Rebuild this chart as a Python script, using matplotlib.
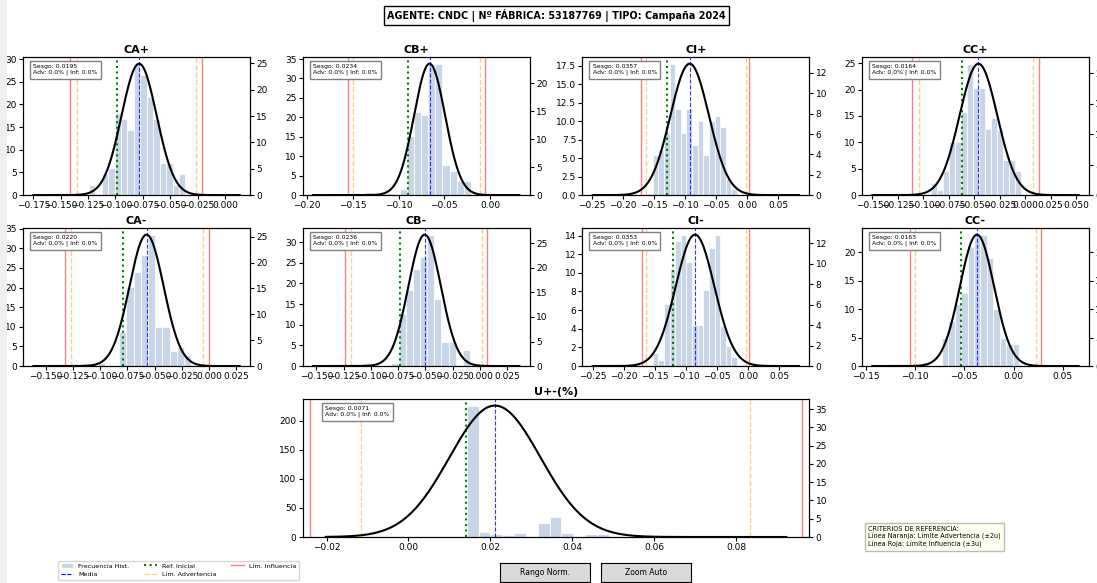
import numpy as np
import matplotlib
matplotlib.use('Agg')
import matplotlib.pyplot as plt
from matplotlib.patches import Patch, Rectangle
from matplotlib.lines import Line2D
from matplotlib.ticker import MultipleLocator

# Datos
titulos = ['CA+', 'CB+', 'CI+', 'CC+', 'CA-', 'CB-', 'CI-', 'CC-', 'U+-(%)']
sesgos = [0.0195, 0.0234, 0.0357, 0.0164, 0.0220, 0.0236, 0.0353, 0.0163, 0.0071]
medias = [-0.0784, -0.0661, -0.0926, -0.0458, -0.0575, -0.0507, -0.0853, -0.0371, 0.0211]
sigmas = [0.0160, 0.0170, 0.0309, 0.0185, 0.0157, 0.0149, 0.0311, 0.0173, 0.0111]
ref_inicial = [-0.0989, -0.0896, -0.1298, -0.0619, -0.0793, -0.0734, -0.1205, -0.0538, 0.0140]
adv_inf = [-0.1355, -0.1504, -0.1633, -0.1042, -0.1269, -0.1182, -0.1647, -0.0997, -0.0116]
adv_sup = [-0.0263, -0.0108, -0.0021, 0.0081, -0.0053, 0.0016, -0.0032, 0.0232, 0.0833]
lim_inf = [-0.1412, -0.1558, -0.1707, -0.1106, -0.1324, -0.1240, -0.1711, -0.1051, -0.0241]
lim_sup = [-0.0206, -0.0050, 0.0032, 0.0135, 0.0000, 0.0068, 0.0011, 0.0279, 0.0960]
curva_ini = [-0.1750, -0.1937, -0.2484, -0.1500, -0.1615, -0.1530, -0.2500, -0.1433, -0.0202]
curva_fin = [0.0135, 0.0322, 0.0830, 0.0526, 0.0281, 0.0361, 0.0820, 0.0661, 0.0922]
bin_inicio = [-0.1243, -0.1372, -0.1521, -0.0919, -0.1157, -0.1073, -0.1535, -0.0924, 0.0142]
bin_ancho = [0.00588, 0.00775, 0.00904, 0.00587, 0.00661, 0.00654, 0.00906, 0.00653, 0.00289]

frec_ca_pos = [2.3, 0, 4.7, 6.0, 18.1, 16.8, 14.4, 29.0, 26.6, 21.7, 16.7, 7.1, 7.1, 2.3, 4.6]
frec_cb_pos = [0.8, 0, 0.5, 0.5, 0, 1.6, 15.2, 21.3, 20.5, 33.8, 33.8, 7.8, 6.1, 3.5, 3.5]
frec_ci_pos = [5.5, 6.1, 8.4, 17.8, 11.6, 8.4, 11.6, 6.8, 10.0, 5.4, 10.0, 10.7, 9.2, 2.2, 0.8]
frec_cc_pos = [2.2, 1.0, 4.5, 10.1, 10.1, 15.8, 24.9, 20.3, 20.3, 12.5, 14.6, 12.4, 6.6, 6.6, 4.5]
frec_ca_neg = [0.85, 0, 0.85, 0, 0, 8.8, 20.1, 24.0, 28.2, 33.5, 9.9, 9.9, 3.8, 4.9, 2.8]
frec_cb_neg = [0.8, 0.8, 0, 0, 0.8, 12.5, 18.4, 23.4, 26.5, 31.8, 16.2, 5.9, 5.9, 0, 3.9]
frec_ci_neg = [1.4, 0.7, 6.7, 10.4, 13.4, 14.1, 11.2, 4.4, 4.4, 8.2, 12.7, 14.1, 4.3, 2.2, 1.0]
frec_cc_neg = [0.8, 0, 0, 5.0, 7.9, 10.9, 12.9, 21.0, 23.1, 23.1, 19.0, 10.0, 5.0, 3.8, 3.8]
frec_u = [226, 9.1, 4.6, 2.9, 6.3, 0, 24.6, 34.3, 6.3, 0, 5.0, 5.0]
frecuencias = [frec_ca_pos, frec_cb_pos, frec_ci_pos, frec_cc_pos,
               frec_ca_neg, frec_cb_neg, frec_ci_neg, frec_cc_neg, frec_u]

# paso de las marcas de cada eje
paso_x = [0.025, 0.05, 0.05, 0.025, 0.025, 0.025, 0.05, 0.05, 0.02]
paso_y = [5, 5, 2.5, 5, 5, 5, 2, 5, 50]
paso_y2 = [5, 5, 2, 5, 5, 5, 2, 5, 5]

titulo_general = 'AGENTE: CNDC | Nº FÁBRICA: 53187769 | TIPO: Campaña 2024'
texto_criterios = ('CRITERIOS DE REFERENCIA:\n'
                   'Línea Naranja: Límite Advertencia (±2u)\n'
                   'Línea Roja: Límite Influencia (±3u)')


def normal_pdf(x, mu, sigma):
    return np.exp(-0.5 * ((x - mu) / sigma) ** 2) / (sigma * np.sqrt(2 * np.pi))


def dibujar(ax, i):
    alturas = np.array(frecuencias[i], dtype=float)
    bordes = bin_inicio[i] + bin_ancho[i] * np.arange(len(alturas))
    ax.bar(bordes, alturas, width=bin_ancho[i], align='edge', color='lightsteelblue',
           alpha=0.7, edgecolor='white', linewidth=0.8)

    ax2 = ax.twinx()
    x = np.linspace(curva_ini[i], curva_fin[i], 300)
    ax2.plot(x, normal_pdf(x, medias[i], sigmas[i]), color='black', lw=1.5)
    ax2.set_ylim(bottom=0)
    ax.set_ylim(bottom=0)

    ax.axvline(medias[i], color='blue', ls='--', lw=0.8, alpha=0.8)
    ax.axvline(ref_inicial[i], color='green', ls=':', lw=1.5)
    for v in (adv_inf[i], adv_sup[i]):
        ax.axvline(v, color='orange', ls='--', lw=1, alpha=0.5)
    for v in (lim_inf[i], lim_sup[i]):
        ax.axvline(v, color='red', lw=1, alpha=0.5)

    ax.xaxis.set_major_locator(MultipleLocator(paso_x[i]))
    ax.yaxis.set_major_locator(MultipleLocator(paso_y[i]))
    ax2.yaxis.set_major_locator(MultipleLocator(paso_y2[i]))

    ax.set_title(titulos[i], fontsize=8, fontweight='bold', pad=3)
    ax.tick_params(labelsize=6.5, length=3, pad=1.5)
    ax2.tick_params(labelsize=6.5, length=3, pad=1.5)
    ax2.text(0.045, 0.95, f'Sesgo: {sesgos[i]:.4f}\nAdv: 0.0% | Inf: 0.0%',
             transform=ax2.transAxes, fontsize=4.4, va='top', ha='left', zorder=10,
             bbox=dict(boxstyle='square,pad=0.55', facecolor='white', edgecolor='gray'))


fig = plt.figure(figsize=(10.97, 5.83), dpi=100)
fig.patches.append(Rectangle((0, 0), 7 / 1097, 1, transform=fig.transFigure,
                             facecolor='#efefef', edgecolor='none'))
gs = fig.add_gridspec(3, 4, left=0.021, right=0.9927, top=0.902, bottom=0.0789,
                      wspace=0.232, hspace=0.239)

posiciones = [gs[0, 0], gs[0, 1], gs[0, 2], gs[0, 3],
              gs[1, 0], gs[1, 1], gs[1, 2], gs[1, 3], gs[2, 1:3]]
for i, pos in enumerate(posiciones):
    dibujar(fig.add_subplot(pos), i)

fig.text(0.507, 0.974, titulo_general, ha='center', va='center', fontsize=6.95,
         fontweight='bold', bbox=dict(boxstyle='square,pad=0.32', facecolor='white', edgecolor='black'))

handles = [Patch(facecolor='lightsteelblue', alpha=0.7, edgecolor='white'),
           Line2D([], [], color='blue', ls='--', lw=0.8),
           Line2D([], [], color='green', ls=':', lw=1.5),
           Line2D([], [], color='orange', ls='--', lw=1, alpha=0.5),
           Line2D([], [], color='red', lw=1, alpha=0.5)]
nombres = ['Frecuencia Hist.', 'Media', 'Ref. Inicial', 'Lím. Advertencia', 'Lím. Influencia']
fig.legend(handles, nombres, loc='lower left', bbox_to_anchor=(0.05, 0.0), ncol=3,
           fontsize=4.6, frameon=True, columnspacing=2.3, handlelength=2)

fig.text(0.7915, 0.06, texto_criterios, fontsize=4.7, va='bottom', ha='left',
         bbox=dict(boxstyle='square,pad=0.5', facecolor='#fffff0', edgecolor='#bbbbbb'))

for x0, etiqueta in [(500, 'Rango Norm.'), (601, 'Zoom Auto')]:
    bax = fig.add_axes([x0 / 1097, 1 / 583, 90 / 1097, 19 / 583])
    bax.set_facecolor('#d9d9d9')
    bax.set_xticks([])
    bax.set_yticks([])
    bax.text(0.5, 0.5, etiqueta, ha='center', va='center', fontsize=5.5, transform=bax.transAxes)

fig.savefig('out.png', dpi=100)
